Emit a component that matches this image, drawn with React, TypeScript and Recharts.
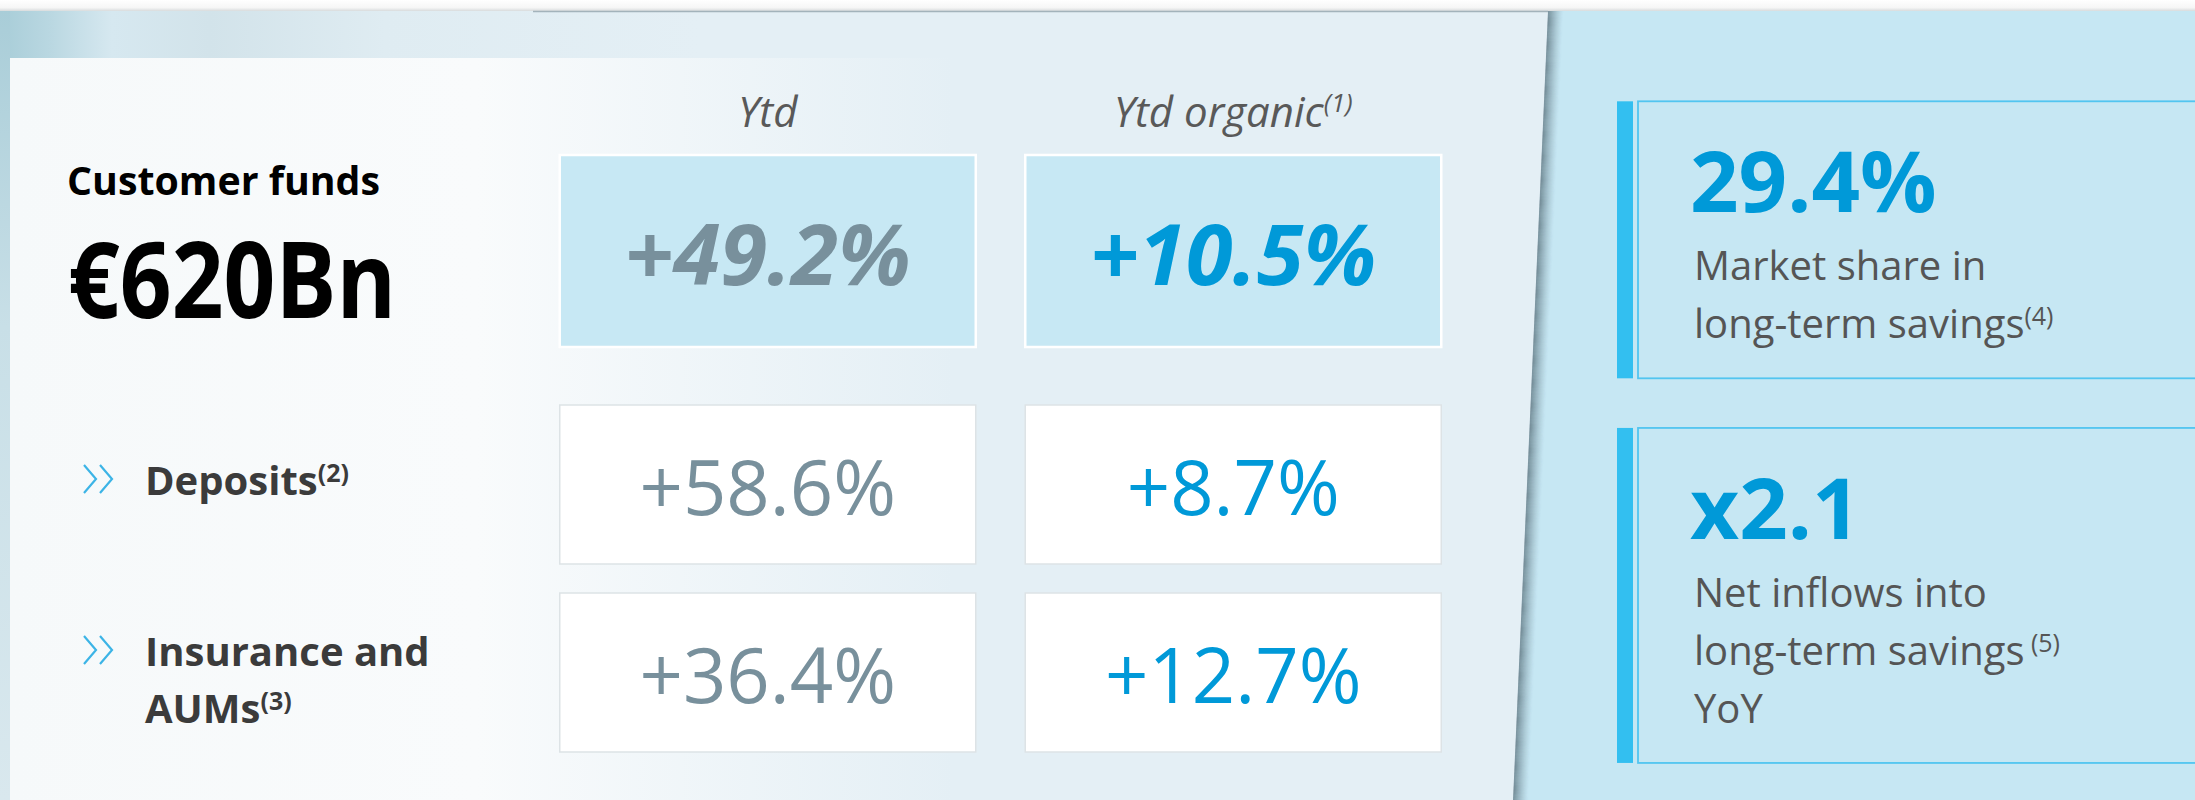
import React from "react";
import { ScatterChart, Scatter, XAxis, YAxis } from "recharts";

const FONT = "'Open Sans', 'Noto Sans', sans-serif";

// growth table
const COLUMNS = ["Ytd", "Ytd organic"];
const COLUMN_NOTES = ["", "(1)"];
const TOTAL_LABEL = "Customer funds";
const TOTAL_AMOUNT = "€620Bn";
const TOTAL_GROWTH = [49.2, 10.5];
const SEGMENTS = [["Deposits"], ["Insurance and", "AUMs"]];
const SEGMENT_NOTES = ["(2)", "(3)"];
const YTD_GROWTH = [58.6, 36.4];
const ORGANIC_GROWTH = [8.7, 12.7];

// side KPIs
const KPI_VALUES = ["29.4%", "x2.1"];
const KPI_LINES = [
  ["Market share in", "long-term savings"],
  ["Net inflows into", "long-term savings", "YoY"],
];
const KPI_NOTES = ["(4)", " (5)"];
const KPI_NOTE_LINE = [1, 1];

const GREY = "#78909c";
const BLUE = "#0099d8";

const fmt = (v: number) => `+${v.toFixed(1)}%`;

const totalCells = TOTAL_GROWTH.map((value, col) => ({ col, row: 0, value, hero: true }));
const segmentCells = SEGMENTS.flatMap((_, row) => [
  { col: 0, row, value: YTD_GROWTH[row], hero: false },
  { col: 1, row, value: ORGANIC_GROWTH[row], hero: false },
]);
const kpiCards = KPI_VALUES.map((value, row) => ({
  col: 0,
  row,
  value,
  lines: KPI_LINES[row],
  note: KPI_NOTES[row],
  noteLine: KPI_NOTE_LINE[row],
}));

function GrowthCell(props: any) {
  const { cx, cy, payload } = props;
  const hero = payload.hero;
  const w = 416;
  const h = hero ? 192 : 159;
  return (
    <g>
      <rect
        x={cx - w / 2}
        y={cy - h / 2}
        width={w}
        height={h}
        fill={hero ? "#c7e8f4" : "#ffffff"}
        stroke={hero ? "#ffffff" : "#dde3e6"}
        strokeWidth={hero ? 2.5 : 1.5}
      />
      <text
        x={cx}
        y={cy + (hero ? 34 : 30)}
        textAnchor="middle"
        fontFamily={FONT}
        fontSize={hero ? 85 : 76}
        fontWeight={hero ? 700 : 400}
        fontStyle={hero ? "italic" : "normal"}
        fill={payload.col === 0 ? GREY : BLUE}
      >
        {fmt(payload.value)}
      </text>
    </g>
  );
}

function HeaderTick(props: any) {
  const { x, payload } = props;
  const i = payload.value;
  return (
    <text x={x} y={127} textAnchor="middle" fontFamily={FONT} fontStyle="italic" fontSize={42} fill="#595959">
      {COLUMNS[i]}
      {COLUMN_NOTES[i] ? (
        <tspan fontSize={26} dy={-15}>
          {COLUMN_NOTES[i]}
        </tspan>
      ) : null}
    </text>
  );
}

function TotalTick(props: any) {
  const { y } = props;
  return (
    <g fontFamily={FONT} fontWeight={700} fill="#000000">
      <text x={67} y={y - 56} fontSize={40} textLength={313} lengthAdjust="spacingAndGlyphs">
        {TOTAL_LABEL}
      </text>
      <text x={68} y={y + 67} fontSize={106} textLength={328} lengthAdjust="spacingAndGlyphs">
        {TOTAL_AMOUNT}
      </text>
    </g>
  );
}

function Chevrons({ x, y }: { x: number; y: number }) {
  const h = 28;
  const w = 12;
  return (
    <g fill="none" stroke="#3cb4e6" strokeWidth={2.2}>
      {[0, 16].map((o) => (
        <polyline key={o} points={`${x + o},${y} ${x + o + w},${y + h / 2} ${x + o},${y + h}`} />
      ))}
    </g>
  );
}

function SegmentTick(props: any) {
  const { y, payload } = props;
  const r = payload.value;
  const lines = SEGMENTS[r];
  const base = y + 10.5 - (lines.length - 1) * 17;
  return (
    <g>
      <Chevrons x={84} y={base - 30} />
      <text fontFamily={FONT} fontWeight={700} fontSize={40} fill="#3b3b3b">
        {lines.map((l, k) => (
          <tspan key={k} x={145} y={base + k * 57}>
            {l}
            {k === lines.length - 1 ? (
              <tspan fontSize={25} dy={-13}>
                {SEGMENT_NOTES[r]}
              </tspan>
            ) : null}
          </tspan>
        ))}
      </text>
    </g>
  );
}

function KpiCard(props: any) {
  const { cx, cy, payload } = props;
  const n = payload.lines.length;
  const h = 179 + (n - 1) * 58 + 40;
  const top = cy - h / 2;
  return (
    <g>
      <rect x={cx} y={top} width={16} height={h} fill="#33bff0" />
      <rect x={cx + 21} y={top} width={700} height={h} fill="none" stroke="#52c5f0" strokeWidth={1.8} />
      <text x={cx + 73} y={top + 111} fontFamily={FONT} fontWeight={700} fontSize={85} fill={BLUE}>
        {payload.value}
      </text>
      <text fontFamily={FONT} fontSize={40} fill="#555555">
        {payload.lines.map((l: string, k: number) => (
          <tspan key={k} x={cx + 77} y={top + 179 + k * 58}>
            {l}
            {k === payload.noteLine ? (
              <tspan fontSize={25} dy={-13}>
                {payload.note}
              </tspan>
            ) : null}
          </tspan>
        ))}
      </text>
    </g>
  );
}

function Backdrop() {
  const shadow = Array.from({ length: 16 }, (_, i) => i);
  return (
    <svg width={2195} height={800} style={{ position: "absolute", left: 0, top: 0 }}>
      <defs>
        <linearGradient id="topStrip" x1="0" y1="0" x2="0" y2="1">
          <stop offset="0" stopColor="#ffffff" />
          <stop offset="0.7" stopColor="#f6f6f6" />
          <stop offset="1" stopColor="#d8dbdc" />
        </linearGradient>
        <linearGradient id="photo" x1="0" y1="0" x2="1" y2="0">
          <stop offset="0" stopColor="#a8cdd8" />
          <stop offset="0.07" stopColor="#b9d7e1" />
          <stop offset="0.16" stopColor="#d6e8f0" />
          <stop offset="0.3" stopColor="#d2e3ea" />
          <stop offset="0.55" stopColor="#dfecf2" />
          <stop offset="1" stopColor="#e4eff5" />
        </linearGradient>
        <linearGradient id="edge" x1="0" y1="0" x2="0" y2="1">
          <stop offset="0" stopColor="#a9cdd8" />
          <stop offset="0.4" stopColor="#c8dfe7" />
          <stop offset="1" stopColor="#d9e8ee" />
        </linearGradient>
        <linearGradient id="inner" gradientUnits="userSpaceOnUse" x1="10" y1="0" x2="1120" y2="0">
          <stop offset="0" stopColor="#f6f9fa" />
          <stop offset="0.42" stopColor="#f9fbfc" />
          <stop offset="0.85" stopColor="#e4eff5" />
          <stop offset="1" stopColor="#e4eff5" />
        </linearGradient>
      </defs>
      <rect width={2195} height={11} fill="url(#topStrip)" />
      <rect y={11} width={2195} height={789} fill="#c6e7f3" />
      {shadow.map((i) => (
        <line
          key={i}
          x1={1548 + i}
          y1={11}
          x2={1513 + i}
          y2={800}
          stroke="#5f7681"
          strokeWidth={1.2}
          strokeOpacity={0.8 * Math.pow(1 - i / 16, 1.6)}
        />
      ))}
      <polygon points="0,11 1548,11 1513,800 0,800" fill="#e4eff5" />
      <rect x={0} y={11} width={700} height={47} fill="url(#photo)" />
      <rect x={0} y={11} width={10} height={789} fill="url(#edge)" />
      <rect x={10} y={58} width={1110} height={742} fill="url(#inner)" />
      <line x1={533} y1={11.5} x2={1548} y2={11.5} stroke="#a3b3bb" strokeWidth={1.5} />
    </svg>
  );
}

export default function App() {
  return (
    <div style={{ position: "absolute", left: 0, top: 0, width: 2195, height: 800, overflow: "hidden", background: "#fff" }}>
      <Backdrop />
      <div style={{ position: "absolute", left: 0, top: 0 }}>
        <ScatterChart width={1548} height={370} margin={{ top: 0, right: 82, bottom: 18, left: 0 }}>
          <XAxis
            type="number"
            dataKey="col"
            domain={[-0.5, 1.5]}
            ticks={[0, 1]}
            interval={0}
            orientation="top"
            height={150}
            axisLine={false}
            tickLine={false}
            tick={(p: any) => <HeaderTick {...p} />}
          />
          <YAxis
            type="number"
            dataKey="row"
            domain={[-0.5, 0.5]}
            ticks={[0]}
            interval={0}
            width={535}
            axisLine={false}
            tickLine={false}
            tick={(p: any) => <TotalTick {...p} />}
          />
          <Scatter data={totalCells} shape={(p: any) => <GrowthCell {...p} />} isAnimationActive={false} />
        </ScatterChart>
      </div>
      <div style={{ position: "absolute", left: 0, top: 370 }}>
        <ScatterChart width={1548} height={430} margin={{ top: 20.5, right: 82, bottom: 33.5, left: 0 }}>
          <XAxis type="number" dataKey="col" domain={[-0.5, 1.5]} hide />
          <YAxis
            type="number"
            dataKey="row"
            domain={[-0.5, 1.5]}
            ticks={[0, 1]}
            interval={0}
            reversed
            width={535}
            axisLine={false}
            tickLine={false}
            tick={(p: any) => <SegmentTick {...p} />}
          />
          <Scatter data={segmentCells} shape={(p: any) => <GrowthCell {...p} />} isAnimationActive={false} />
        </ScatterChart>
      </div>
      <div style={{ position: "absolute", left: 1548, top: 0 }}>
        <ScatterChart width={647} height={800} margin={{ top: 62, right: 0, bottom: 26.75, left: 69 }}>
          <XAxis type="number" dataKey="col" domain={[0, 1]} hide />
          <YAxis type="number" dataKey="row" domain={[-0.5, 1.5]} reversed hide />
          <Scatter data={kpiCards} shape={(p: any) => <KpiCard {...p} />} isAnimationActive={false} />
        </ScatterChart>
      </div>
    </div>
  );
}
